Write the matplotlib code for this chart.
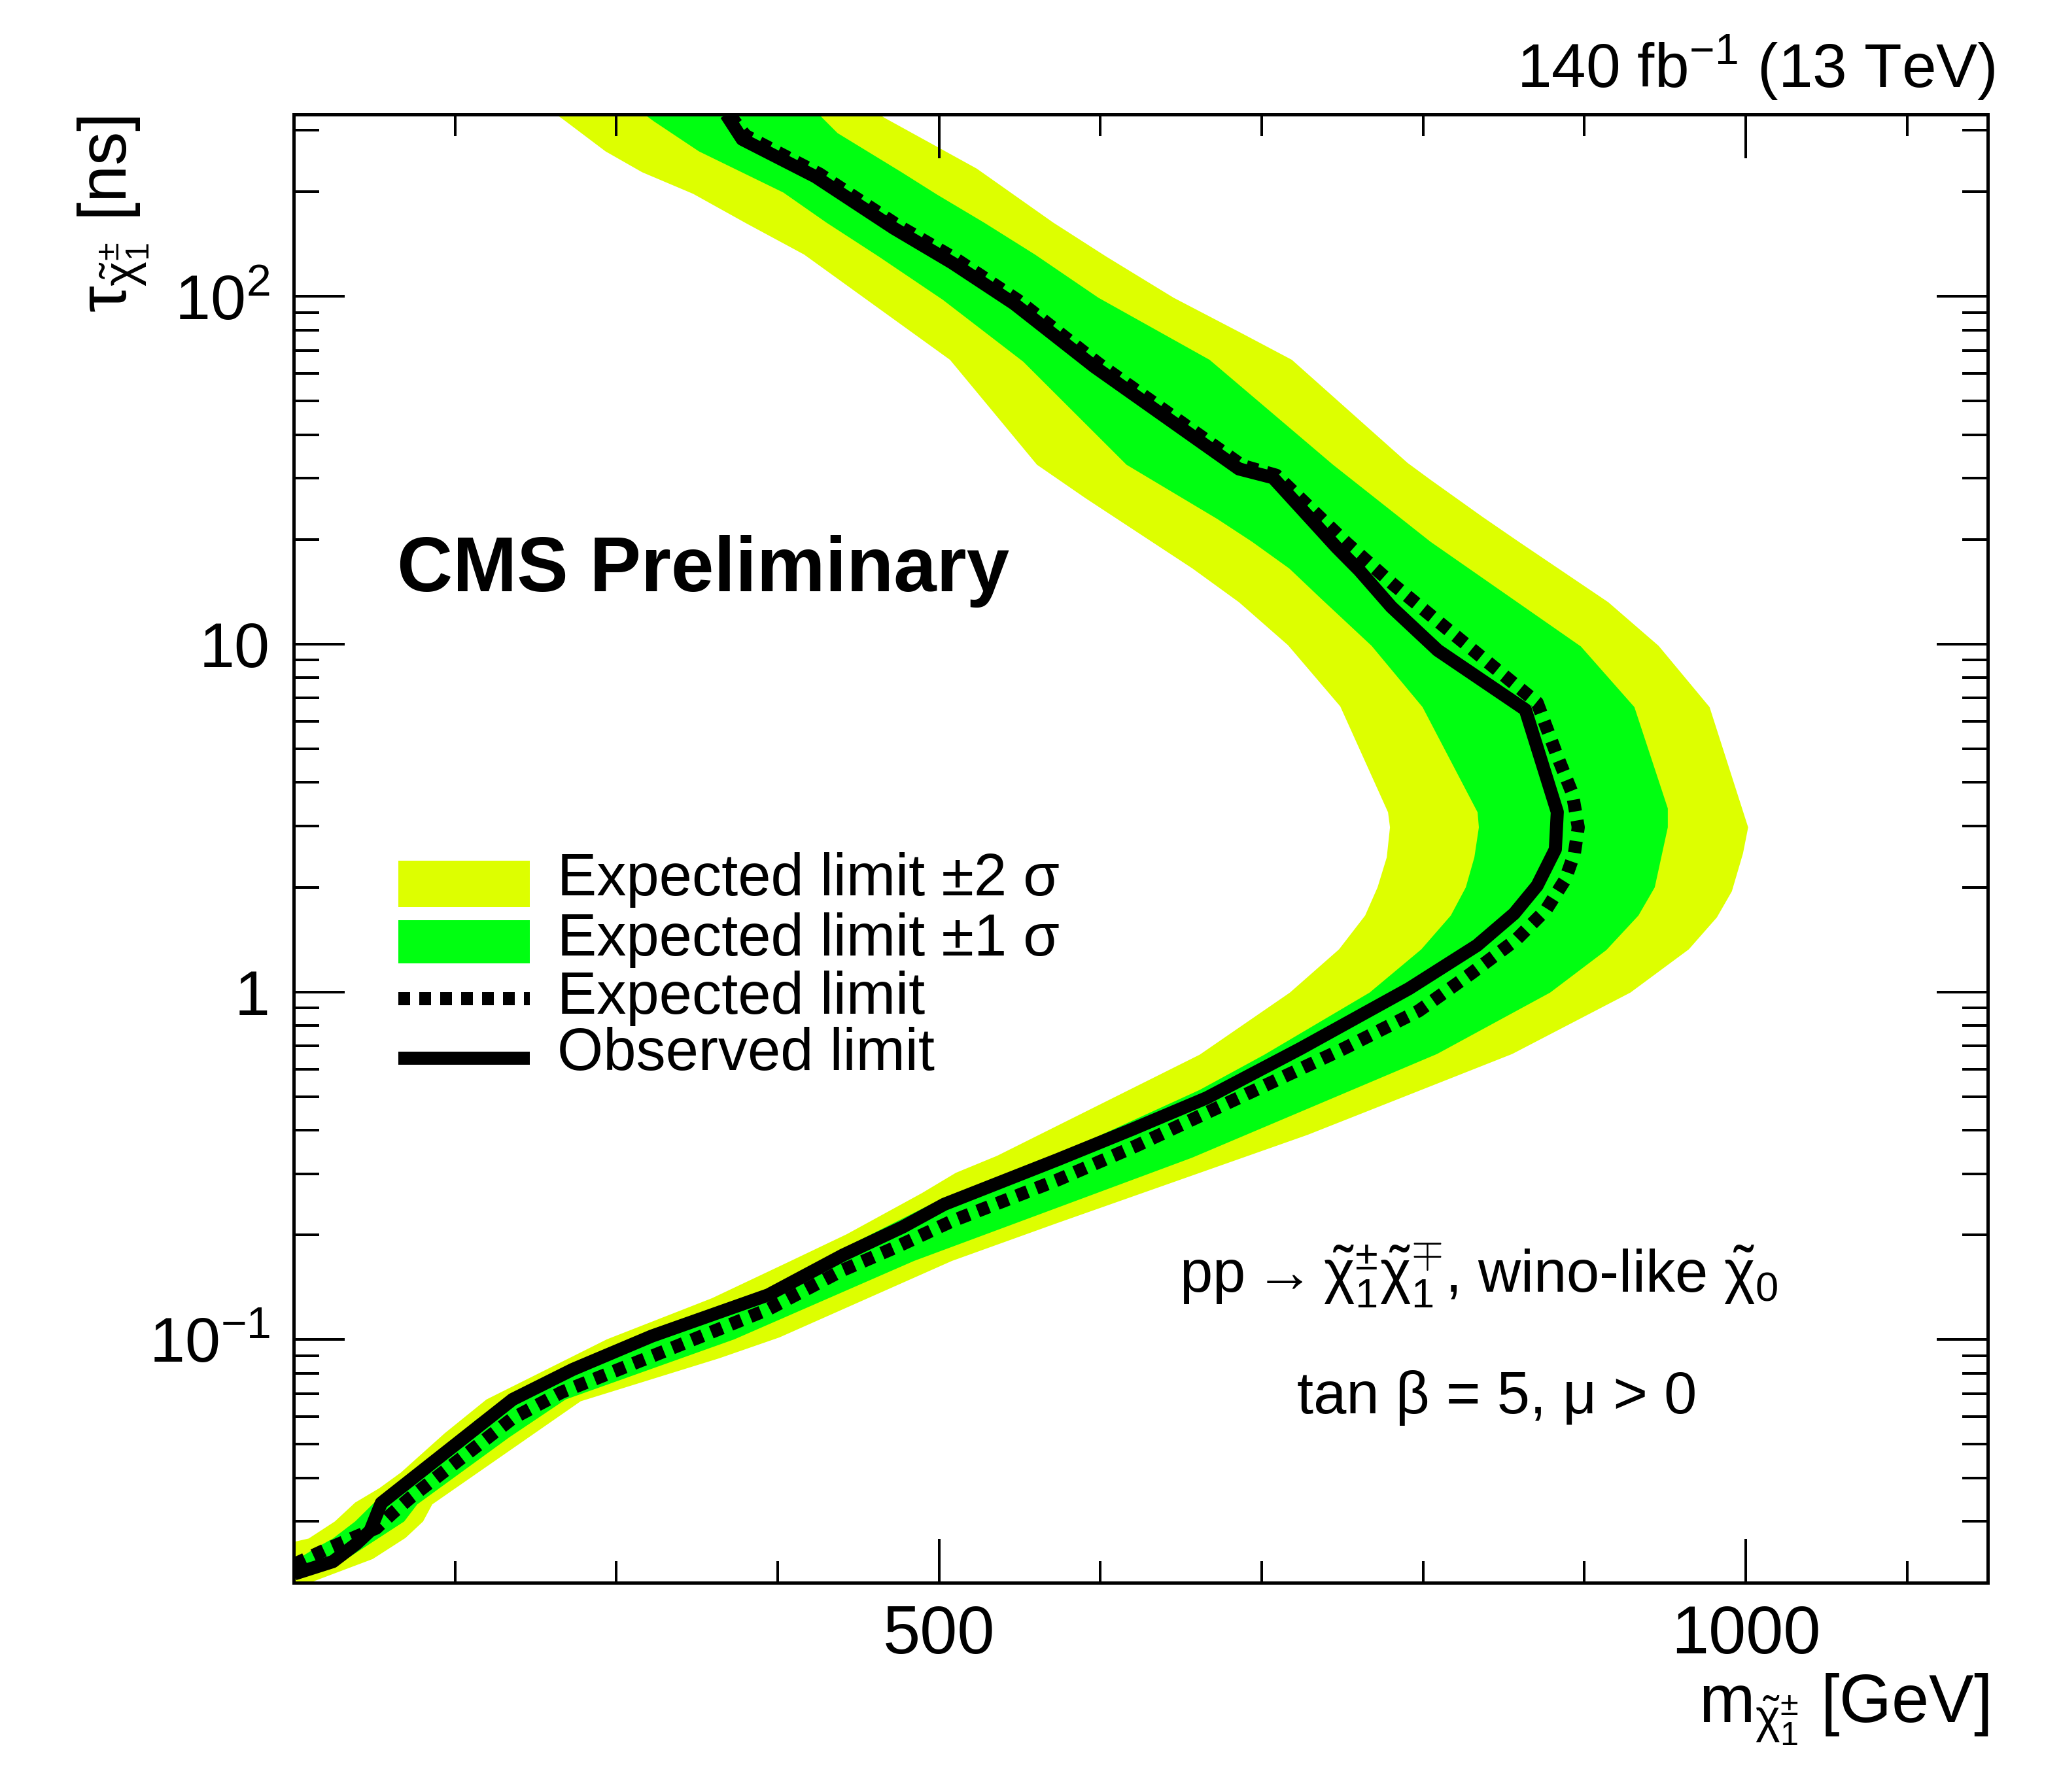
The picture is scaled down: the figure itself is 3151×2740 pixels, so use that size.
import numpy as np
import matplotlib
matplotlib.use("Agg")
import matplotlib.pyplot as plt
from matplotlib.ticker import FixedLocator, FixedFormatter, NullFormatter
from matplotlib.patches import Rectangle
from matplotlib.lines import Line2D

plt.rcParams['font.family'] = ['Liberation Sans', 'DejaVu Sans']
plt.rcParams['mathtext.fontset'] = 'custom'
plt.rcParams['mathtext.rm'] = 'Liberation Sans'
plt.rcParams['mathtext.it'] = 'Liberation Sans'
plt.rcParams['mathtext.bf'] = 'Liberation Sans:bold'
plt.rcParams['mathtext.sf'] = 'Liberation Sans'

# ---------------- data (chargino mass [GeV], lifetime [ns]) ----------------
obs_mass = [100.4, 124.3, 138.9, 147.4, 154.3, 235.7, 273.0, 322.0, 394.2, 440.4,
            477.6, 503.2, 573.3, 619.4, 666.0, 724.0, 791.3, 833.4, 856.5, 870.7,
            877.6, 882.0, 883.2, 863.4, 809.1, 780.3, 760.5, 746.3, 707.0, 685.9,
            596.4, 546.5, 508.0, 472.0, 423.3, 378.0, 368.0]
obs_tau = [0.0212, 0.0230, 0.0259, 0.0282, 0.0339, 0.0673, 0.0821, 0.1024, 0.1345, 0.175,
           0.211, 0.245, 0.329, 0.402, 0.496, 0.687, 1.022, 1.36, 1.68, 2.02,
           2.34, 2.57, 3.29, 6.48, 9.60, 12.8, 16.3, 19.0, 30.1, 31.9,
           62.7, 95.3, 125.0, 157.0, 221.0, 283.0, 333.6]

exp_mass = [100.4, 120.7, 151.1, 161.2, 172.9, 235.7, 266.1, 322.0, 394.2, 440.4,
            473.2, 508.0, 573.3, 621.9, 666.0, 750.7, 797.3, 829.7, 857.7, 876.3,
            888.1, 893.8, 896.2, 892.5, 883.2, 870.7, 813.5, 781.1, 752.8, 709.0,
            688.0, 598.8, 549.0, 510.5, 474.4, 425.8, 380.0, 370.0]
exp_tau = [0.0226, 0.0250, 0.0287, 0.0317, 0.0353, 0.0594, 0.0706, 0.0896, 0.1223, 0.1585,
           0.1844, 0.2192, 0.2877, 0.3603, 0.4494, 0.6864, 0.8821, 1.129, 1.413, 1.724,
           2.104, 2.501, 2.973, 3.723, 4.764, 6.79, 11.2, 14.9, 19.5, 30.6,
           32.6, 64.1, 97.4, 128.0, 160.0, 225.0, 290.0, 333.6]

# +-2 sigma band: outer (high-mass) edge and inner (low-mass) edge
y2_out_mass = [100.0, 111.3, 149.0, 169.3, 180.2, 185.9, 277.9, 363.8, 401.1, 508.0,
               573.3, 728.4, 855.3, 928.6, 964.7, 982.1, 991.4, 998.3, 1001.5, 977.6,
               946.0, 914.8, 859.3, 837.0, 804.6, 790.4, 718.7, 687.9, 645.4, 603.6,
               570.8, 523.4, 466.3, 460.0]
y2_out_tau = [0.0192, 0.0201, 0.0234, 0.0269, 0.0300, 0.0336, 0.0665, 0.0884, 0.1015, 0.1684,
              0.2164, 0.388, 0.663, 0.996, 1.325, 1.637, 1.946, 2.501, 2.973, 6.59,
              9.89, 13.2, 19.7, 23.2, 29.7, 33.2, 65.7, 78.2, 99.1, 130.2,
              163.0, 233.0, 326.0, 340.0]
y2_in_mass = [100.0, 109.3, 125.5, 138.1, 153.1, 166.5, 193.6, 219.5, 294.1, 359.3,
              405.5, 442.8, 489.4, 510.4, 536.0, 661.6, 717.5, 747.9, 764.1, 771.8,
              777.5, 779.5, 778.3, 748.7, 716.3, 685.9, 657.1, 590.7, 560.7, 506.8,
              416.4, 380.4, 347.6, 316.0, 293.3, 266.5, 260.0]
y2_in_tau = [0.0262, 0.0268, 0.0300, 0.0340, 0.0374, 0.0415, 0.0538, 0.0673, 0.1002, 0.1316,
             0.1662, 0.201, 0.2639, 0.3018, 0.3378, 0.66, 0.9956, 1.325, 1.658, 1.998,
             2.437, 2.973, 3.284, 6.62, 9.93, 13.2, 16.5, 26.3, 32.8, 65.7,
             131.9, 162.3, 197.2, 227.5, 261.2, 324.2, 340.0]

# +-1 sigma band
g1_out_mass = [100.0, 123.5, 134.0, 149.0, 168.5, 176.6, 233.7, 268.6, 373.1, 484.5,
               656.7, 728.4, 808.7, 878.8, 913.6, 933.5, 943.6, 951.7, 951.7, 931.0,
               897.8, 804.6, 744.2, 667.7, 598.8, 559.5, 527.9, 498.7, 476.8, 437.1,
               427.8, 424.0]
g1_out_tau = [0.0209, 0.0227, 0.0236, 0.0262, 0.0300, 0.0336, 0.0524, 0.0673, 0.1002, 0.1684,
              0.3334, 0.4611, 0.663, 0.9956, 1.319, 1.658, 1.998, 2.973, 3.37, 6.59,
              9.85, 19.7, 32.8, 65.7, 99.1, 131.9, 163.0, 196.3, 227.5, 294.8,
              325.6, 340.0]
g1_in_mass = [100.0, 112.6, 124.3, 138.1, 150.0, 193.6, 212.6, 233.7, 273.0, 322.0,
              394.2, 440.4, 503.2, 580.1, 661.6, 701.7, 766.9, 798.9, 817.2, 826.5,
              831.8, 834.6, 833.8, 799.7, 768.1, 736.9, 717.1, 694.0, 672.5, 616.2,
              552.2, 502.3, 462.6, 430.2, 403.5, 351.2, 323.3, 315.0]
g1_in_tau = [0.0230, 0.0250, 0.0268, 0.0300, 0.0340, 0.0483, 0.0586, 0.0682, 0.0858, 0.107,
             0.1404, 0.1828, 0.2562, 0.3512, 0.5227, 0.66, 0.9956, 1.325, 1.658, 1.998,
             2.437, 2.973, 3.284, 6.59, 9.89, 13.5, 16.5, 19.7, 22.9, 32.8,
             64.9, 97.8, 130.2, 163.0, 198.9, 261.2, 318.6, 340.0]

x_major = [500, 1000]
x_major_labels = ['500', '1000']
x_minor = [200, 300, 400, 600, 700, 800, 900, 1100]
y_major = [0.1, 1, 10, 100]
y_major_labels = [r'$10^{-1}$', '1', '10', r'$10^{2}$']
y_minor = [0.03, 0.04, 0.05, 0.06, 0.07, 0.08, 0.09,
           0.2, 0.3, 0.4, 0.5, 0.6, 0.7, 0.8, 0.9,
           2, 3, 4, 5, 6, 7, 8, 9,
           20, 30, 40, 50, 60, 70, 80, 90, 200, 300]

legend_labels = [u'Expected limit \u00b12 \u03c3', u'Expected limit \u00b11 \u03c3',
                 'Expected limit', 'Observed limit']

YELLOW = '#DDFF00'
GREEN = '#00FF11'

W, H = 3151, 2740
fig = plt.figure(figsize=(W / 200, H / 200), dpi=200)
ax = fig.add_axes([449 / W, 1 - 2420 / H, 2590 / W, 2245 / H])
ax.set_xscale('linear')
ax.set_yscale('log')
ax.set_xlim(100, 1150)
ax.set_ylim(0.02, 333.56)

ax.fill(np.r_[y2_out_mass, y2_in_mass[::-1]], np.r_[y2_out_tau, y2_in_tau[::-1]],
        color=YELLOW, lw=0, zorder=1)
ax.fill(np.r_[g1_out_mass, g1_in_mass[::-1]], np.r_[g1_out_tau, g1_in_tau[::-1]],
        color=GREEN, lw=0, zorder=2)
dot_style = (0, (0.9, 0.7))
ax.plot(exp_mass, exp_tau, color='black', lw=7.2, ls=dot_style, dash_capstyle='butt', zorder=3)
ax.plot(obs_mass, obs_tau, color='black', lw=7.2, solid_capstyle='butt', zorder=4)

# axes / ticks
for sp in ax.spines.values():
    sp.set_linewidth(1.8)
ax.xaxis.set_major_locator(FixedLocator(x_major))
ax.xaxis.set_major_formatter(FixedFormatter(x_major_labels))
ax.xaxis.set_minor_locator(FixedLocator(x_minor))
ax.xaxis.set_minor_formatter(NullFormatter())
ax.yaxis.set_major_locator(FixedLocator(y_major))
ax.yaxis.set_major_formatter(FixedFormatter(y_major_labels))
ax.yaxis.set_minor_locator(FixedLocator(y_minor))
ax.yaxis.set_minor_formatter(NullFormatter())
ax.tick_params(which='both', direction='in', top=True, right=True, width=1.44, color='black')
ax.tick_params(axis='x', which='major', length=24, pad=12, labelsize=37)
ax.tick_params(axis='x', which='minor', length=12)
ax.tick_params(axis='y', which='major', length=28, pad=13, labelsize=35)
ax.tick_params(axis='y', which='minor', length=14)

def fx(px):
    return px / W

def fy(py):
    return 1 - py / H

fig.text(fx(3041), fy(2633), r'm$_{\tilde{\chi}^{\pm}_{1}}$ [GeV]', fontsize=37,
         ha='right', va='baseline')
fig.text(fx(193), fy(177), r'$\tau_{\tilde{\chi}^{\pm}_{1}}$ [ns]', fontsize=37,
         rotation=90, rotation_mode='anchor', ha='right', va='baseline')
fig.text(fx(3051), fy(133), r'140 fb$^{-1}$ (13 TeV)', fontsize=34, ha='right', va='baseline')
fig.text(fx(607), fy(904), 'CMS Preliminary', fontsize=42.4, fontweight='bold',
         ha='left', va='baseline')
fig.text(fx(1803), fy(1976),
         r'pp$\rightarrow\tilde{\chi}^{\pm}_{1}\tilde{\chi}^{\mp}_{1}$, wino-like $\tilde{\chi}_{0}$',
         fontsize=32.5, ha='left', va='baseline')
fig.text(fx(1983), fy(2161), u'tan \u03b2 = 5, \u03bc > 0', fontsize=32.5, ha='left', va='baseline')

# legend (drawn at the reference's pixel positions)
bx0, bx1 = 609, 810
fig.patches.append(Rectangle((fx(bx0), fy(1387)), fx(bx1) - fx(bx0), fy(1316) - fy(1387),
                             transform=fig.transFigure, color=YELLOW, lw=0))
fig.patches.append(Rectangle((fx(bx0), fy(1473)), fx(bx1) - fx(bx0), fy(1407) - fy(1473),
                             transform=fig.transFigure, color=GREEN, lw=0))
fig.lines.append(Line2D([fx(bx0), fx(bx1)], [fy(1527), fy(1527)], transform=fig.transFigure,
                        color='black', lw=7.2, ls=dot_style, dash_capstyle='butt'))
fig.lines.append(Line2D([fx(bx0), fx(bx1)], [fy(1618), fy(1618)], transform=fig.transFigure,
                        color='black', lw=7.2, solid_capstyle='butt'))
for lab, base in zip(legend_labels, [1369, 1461, 1550, 1636]):
    fig.text(fx(852), fy(base), lab, fontsize=32.5, ha='left', va='baseline')

fig.savefig('out.png', dpi=200)
